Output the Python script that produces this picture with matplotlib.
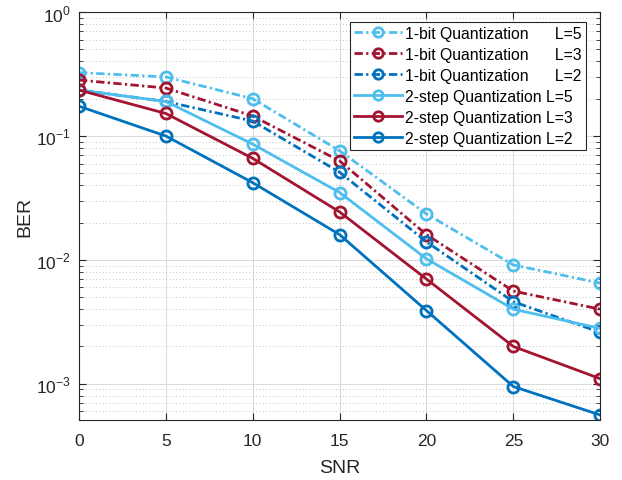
import matplotlib
matplotlib.use("Agg")
import matplotlib.pyplot as plt
from matplotlib.ticker import LogLocator, NullFormatter, FixedLocator

plt.rcParams['font.family'] = ['Liberation Sans', 'DejaVu Sans']
plt.rcParams['mathtext.fontset'] = 'custom'
plt.rcParams['mathtext.rm'] = 'Liberation Sans'

snr = [0, 5, 10, 15, 20, 25, 30]
onebit_L5 = [0.325, 0.30, 0.20, 0.076, 0.0235, 0.0091, 0.0065]
onebit_L3 = [0.283, 0.244, 0.145, 0.063, 0.016, 0.0056, 0.0040]
onebit_L2 = [0.235, 0.19, 0.132, 0.051, 0.014, 0.0046, 0.0026]
twostep_L5 = [0.235, 0.19, 0.086, 0.035, 0.0102, 0.0040, 0.0028]
twostep_L3 = [0.235, 0.152, 0.066, 0.0244, 0.0070, 0.0020, 0.0011]
twostep_L2 = [0.174, 0.100, 0.042, 0.016, 0.0039, 0.00095, 0.00056]

labels = ["1-bit Quantization      L=5", "1-bit Quantization      L=3",
          "1-bit Quantization      L=2", "2-step Quantization L=5",
          "2-step Quantization L=3", "2-step Quantization L=2"]
c_light = '#4DBEEE'
c_red = '#A2142F'
c_blue = '#0072BD'
dashdot = (0, (3, 1.2, 0.8, 1.2))

fig = plt.figure(figsize=(6.22, 4.81), dpi=100)
ax = fig.add_axes([0.127, 0.1247, 0.838, 0.848])

series = [(onebit_L5, c_light, dashdot), (onebit_L3, c_red, dashdot), (onebit_L2, c_blue, dashdot),
          (twostep_L5, c_light, '-'), (twostep_L3, c_red, '-'), (twostep_L2, c_blue, '-')]
for (vals, col, ls), lab in zip(series, labels):
    ax.semilogy(snr, vals, linestyle=ls, color=col, marker='o', markersize=8,
                markerfacecolor='none', markeredgewidth=2, linewidth=2, label=lab)

ax.set_xlim(0, 30)
ax.set_ylim(5.1e-4, 1)
ax.set_xticks([0, 5, 10, 15, 20, 25, 30])
ax.yaxis.set_major_locator(FixedLocator([1e-3, 1e-2, 1e-1, 1]))
ax.yaxis.set_minor_locator(LogLocator(base=10, subs=range(2, 10), numticks=20))
ax.yaxis.set_minor_formatter(NullFormatter())
ax.set_yticklabels([r'$10^{-3}$', r'$10^{-2}$', r'$10^{-1}$', r'$10^{0}$'])

ax.grid(True, which='major', color='#dcdcdc', linewidth=0.8, linestyle='-')
ax.grid(True, which='minor', axis='y', color='#b0b0b0', linewidth=0.6, linestyle=(0, (1, 3)))
ax.set_axisbelow(True)
ax.tick_params(which='both', direction='in', top=True, right=True, labelsize=12.5, colors='#262626')
ax.tick_params(which='major', length=5)
ax.tick_params(which='minor', length=3)
ax.tick_params(axis='x', pad=9)
ax.tick_params(axis='y', pad=6)
for s in ax.spines.values():
    s.set_color('#262626')
    s.set_linewidth(0.8)

ax.set_xlabel('SNR', fontsize=14, color='#262626', labelpad=8)
ax.set_ylabel('BER', fontsize=14, color='#262626', labelpad=2)

leg = ax.legend(loc='upper right', fontsize=11.3, frameon=True, fancybox=False,
                edgecolor='#262626', framealpha=1, handlelength=3.1, borderpad=0.25,
                labelspacing=0.38, handletextpad=0.2, borderaxespad=0.0, markerscale=0.85,
                bbox_to_anchor=(586 / 622, 1 - 23 / 481), bbox_transform=fig.transFigure)
leg.get_frame().set_linewidth(0.8)

fig.savefig('out.png', dpi=100)
